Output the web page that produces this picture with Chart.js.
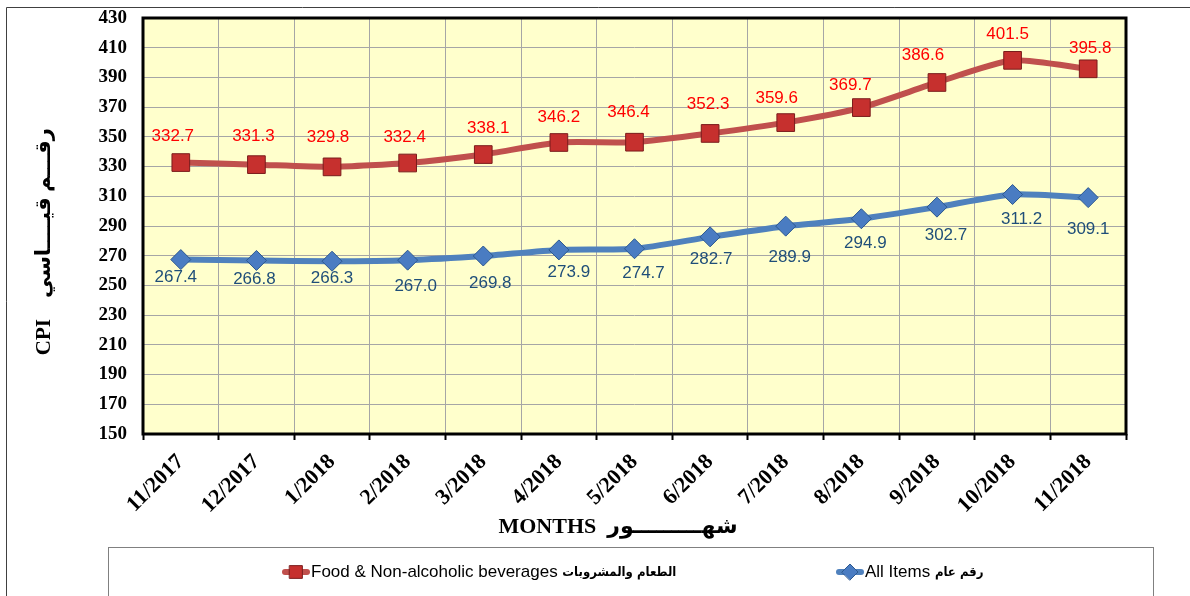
<!DOCTYPE html>
<html>
<head>
<meta charset="utf-8">
<script src="https://cdn.jsdelivr.net/npm/chart.js@4.4.1/dist/chart.umd.min.js"></script>
<style>
  html, body { margin: 0; padding: 0; background: #fff; }
</style>
</head>
<body>
<canvas id="cpiChart" width="1190" height="596"></canvas>
<script>
// data
const months = ['11/2017', '12/2017', '1/2018', '2/2018', '3/2018', '4/2018', '5/2018',
                '6/2018', '7/2018', '8/2018', '9/2018', '10/2018', '11/2018'];
const foodValues = [332.7, 331.3, 329.8, 332.4, 338.1, 346.2, 346.4, 352.3, 359.6, 369.7, 386.6, 401.5, 395.8];
const allItemsValues = [267.4, 266.8, 266.3, 267.0, 269.8, 273.9, 274.7, 282.7, 289.9, 294.9, 302.7, 311.2, 309.1];
const seriesNamesEn = ['Food & Non-alcoholic beverages', 'All Items'];
const seriesNamesAr = ['الطعام والمشروبات', 'رقم عام'];
const yMin = 150, yMax = 430, yStep = 20;

// the value labels were nudged by hand in the original, so keep the nudges (px)
const foodLabelDx = [-8, -3, -4, -3, 5, 0, -6, -2, -9, -11, -14, -5, 2];
const foodLabelDy = [-26, -28, -30, -26, -26, -25, -30, -29, -24, -22, -27, -26, -20];
const allLabelDx = [-5, -2, 0, 8, 7, 10, 9, 1, 4, 4, 9, 9, 0];
const allLabelDy = [18, 19, 17, 26, 27, 22, 25, 22, 31, 25, 28, 25, 32];

const serif = '"Liberation Serif", "Times New Roman", "DejaVu Sans", serif';
const sans = '"Liberation Sans", Arial, "DejaVu Sans", sans-serif';

// background, outer frame, legend box and the thick plot border
const frame = {
    id: 'frame',
    beforeDraw(chart) {
        const {ctx, chartArea: a} = chart;
        ctx.save();
        ctx.fillStyle = '#fff';
        ctx.fillRect(0, 0, chart.width, chart.height);
        ctx.fillStyle = '#FFFFCC';
        ctx.fillRect(a.left, a.top, a.right - a.left, a.bottom - a.top);
        ctx.strokeStyle = '#404040';
        ctx.lineWidth = 1;
        ctx.beginPath();
        ctx.moveTo(6.5, chart.height);
        ctx.lineTo(6.5, 7.5);
        ctx.lineTo(chart.width, 7.5);
        ctx.stroke();
        ctx.strokeStyle = '#808080';
        ctx.strokeRect(108.5, 547.5, 1045, 80);
        ctx.restore();
    },
    beforeDatasetsDraw(chart) {
        const {ctx, chartArea: a} = chart;
        ctx.save();
        ctx.strokeStyle = '#000';
        ctx.lineWidth = 3;
        ctx.strokeRect(a.left, a.top, a.right - a.left, a.bottom - a.top);
        ctx.restore();
    }
};

const valueLabels = {
    id: 'valueLabels',
    afterDatasetsDraw(chart) {
        const ctx = chart.ctx;
        chart.data.datasets.forEach((ds, i) => {
            const meta = chart.getDatasetMeta(i);
            ctx.save();
            ctx.font = '17px ' + sans;
            ctx.fillStyle = ds.labelColor;
            ctx.textAlign = 'center';
            ctx.textBaseline = 'middle';
            meta.data.forEach((pt, j) => {
                ctx.fillText(ds.data[j].toFixed(1), pt.x + ds.labelDx[j], pt.y + ds.labelDy[j]);
            });
            ctx.restore();
        });
    }
};

// legend inside the bottom box: line sample, marker, english text, bold arabic
const boxLegend = {
    id: 'boxLegend',
    afterDraw(chart) {
        const ctx = chart.ctx;
        const y = 572;
        const xs = [296, 850];
        chart.data.datasets.forEach((ds, i) => {
            const x = xs[i];
            ctx.save();
            ctx.strokeStyle = ds.borderColor;
            ctx.lineWidth = 6;
            ctx.lineCap = 'round';
            ctx.beginPath();
            ctx.moveTo(x - 11, y);
            ctx.lineTo(x + 11, y);
            ctx.stroke();
            ctx.fillStyle = ds.pointBackgroundColor;
            ctx.strokeStyle = ds.pointBorderColor;
            ctx.lineWidth = 1;
            Chart.helpers.drawPoint(ctx, {pointStyle: ds.pointStyle, radius: ds.pointStyle === 'rect' ? 9 : 8, borderWidth: 1}, x, y);
            ctx.fillStyle = '#000';
            ctx.textAlign = 'left';
            ctx.textBaseline = 'middle';
            ctx.font = '17px ' + sans;
            const tx = x + 15;
            ctx.fillText(seriesNamesEn[i], tx, y);
            const w = ctx.measureText(seriesNamesEn[i] + ' ').width;
            ctx.font = 'bold 13px "DejaVu Sans Condensed", "DejaVu Sans", sans-serif';
            ctx.fillText(seriesNamesAr[i], tx + w, y + 1);
            ctx.restore();
        });
    }
};

new Chart(document.getElementById('cpiChart'), {
    type: 'line',
    data: {
        labels: months,
        datasets: [{
            label: seriesNamesEn[0] + ' ' + seriesNamesAr[0],
            data: foodValues,
            borderColor: '#C0504D',
            borderWidth: 6,
            pointStyle: 'rect',
            pointRadius: 12.5,
            pointBackgroundColor: '#C6302E',
            pointBorderColor: '#7A1C1C',
            pointBorderWidth: 1,
            tension: 0.2,
            labelColor: '#FF0000',
            labelDx: foodLabelDx,
            labelDy: foodLabelDy
        }, {
            label: seriesNamesEn[1] + ' ' + seriesNamesAr[1],
            data: allItemsValues,
            borderColor: '#4F81BD',
            borderWidth: 6,
            pointStyle: 'rectRot',
            pointRadius: 10,
            pointBackgroundColor: '#4A7CC2',
            pointBorderColor: '#2C5890',
            pointBorderWidth: 1,
            tension: 0.2,
            labelColor: '#1F4E79',
            labelDx: allLabelDx,
            labelDy: allLabelDy
        }]
    },
    options: {
        responsive: false,
        animation: false,
        layout: {padding: {left: 6, top: 18, right: 64, bottom: 52}},
        plugins: {
            legend: {display: false},
            tooltip: {enabled: false}
        },
        scales: {
            x: {
                offset: true,
                grid: {color: '#A6A6A6', lineWidth: 1, offset: true, tickLength: 6, tickColor: '#000', tickWidth: 2},
                border: {display: false},
                ticks: {
                    color: '#000',
                    font: {family: serif, size: 22, weight: 'bold'},
                    maxRotation: 45, minRotation: 45, autoSkip: false, padding: 9
                },
                title: {
                    display: true,
                    text: 'MONTHS  شهـــــــــور      ',
                    color: '#000',
                    font: {family: serif, size: 22, weight: 'bold'},
                    padding: {top: 0, bottom: 3}
                },
                afterFit(s) { s.height = 110; }
            },
            y: {
                min: yMin,
                max: yMax,
                grid: {color: '#A6A6A6', lineWidth: 1, drawTicks: false},
                border: {display: false},
                ticks: {
                    stepSize: yStep,
                    color: '#000',
                    font: {family: serif, size: 19, weight: 'bold'},
                    padding: 16
                },
                title: {
                    display: true,
                    text: 'CPI    رقـــم قيــــاسي      ',
                    color: '#000',
                    font: {family: serif, size: 21, weight: 'bold'},
                    padding: {top: 26, bottom: 0}
                },
                afterFit(s) {
                    s.width = 137;
                    // tick padding would otherwise push the plot top down
                    s.paddingTop = 10;
                    s.paddingBottom = 10;
                }
            }
        }
    },
    plugins: [frame, valueLabels, boxLegend]
});
</script>
</body>
</html>
